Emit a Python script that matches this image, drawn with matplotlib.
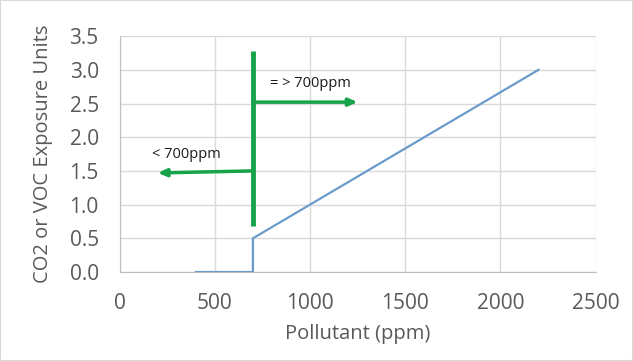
import matplotlib.pyplot as plt

plt.rcParams["font.family"] = ["Open Sans", "DejaVu Sans"]

# exposure curve
pollutant = [400, 700, 700, 2200]
exposure = [0.0, 0.0, 0.5, 3.0]

# threshold marker and arrows
threshold = 700
marker_y = [0.68, 3.28]
right_arrow = (700, 2.52, 1250, 2.52)
left_arrow = (700, 1.50, 200, 1.47)
right_label = "= > 700ppm"
left_label = "< 700ppm"

x_ticks = [0, 500, 1000, 1500, 2000, 2500]
y_ticks = [0.0, 0.5, 1.0, 1.5, 2.0, 2.5, 3.0, 3.5]

text_color = "#595959"
green = "#17a34a"

fig = plt.figure(figsize=(6.33, 3.61), dpi=100)
ax = fig.add_axes([0.189, 0.2465, 0.752, 0.6535])

ax.plot(pollutant, exposure, color="#6a9bcb", lw=1.6, zorder=3)

ax.plot([threshold, threshold], marker_y, color=green, lw=3.5, zorder=4,
        solid_capstyle="butt")
for x0, y0, x1, y1 in (right_arrow, left_arrow):
    ax.annotate("", xy=(x1, y1), xytext=(x0, y0),
                arrowprops=dict(arrowstyle="-|>,head_length=0.5,head_width=0.22",
                                color=green, lw=2.5, shrinkA=0, shrinkB=0),
                zorder=4)
ax.text(788, 2.80, right_label, fontsize=10.5, color="#1a1a1a", va="center")
ax.text(170, 1.75, left_label, fontsize=10.5, color="#1a1a1a", va="center")

ax.set_xlim(0, 2500)
ax.set_ylim(0, 3.5)
ax.set_xticks(x_ticks)
ax.set_yticks(y_ticks)
ax.set_yticklabels([f"{v:.1f}" for v in y_ticks])
ax.grid(True, color="#d9d9d9", lw=1)
ax.set_axisbelow(True)
for side in ("top", "right"):
    ax.spines[side].set_visible(False)
for side in ("left", "bottom"):
    ax.spines[side].set_color("#bfbfbf")
ax.tick_params(length=0, labelsize=15, labelcolor=text_color)
ax.tick_params(axis="y", pad=15)
ax.tick_params(axis="x", pad=15)
ax.set_xlabel("Pollutant (ppm)", fontsize=14.5, color=text_color, labelpad=7)
ax.set_ylabel("CO2 or VOC Exposure Units", fontsize=14.5, color=text_color,
              labelpad=12)

fig.patches.append(plt.Rectangle((0, 0), 1, 1, transform=fig.transFigure,
                                 fill=False, edgecolor="#d9d9d9", lw=1.5))

fig.savefig("out.png", dpi=100)
